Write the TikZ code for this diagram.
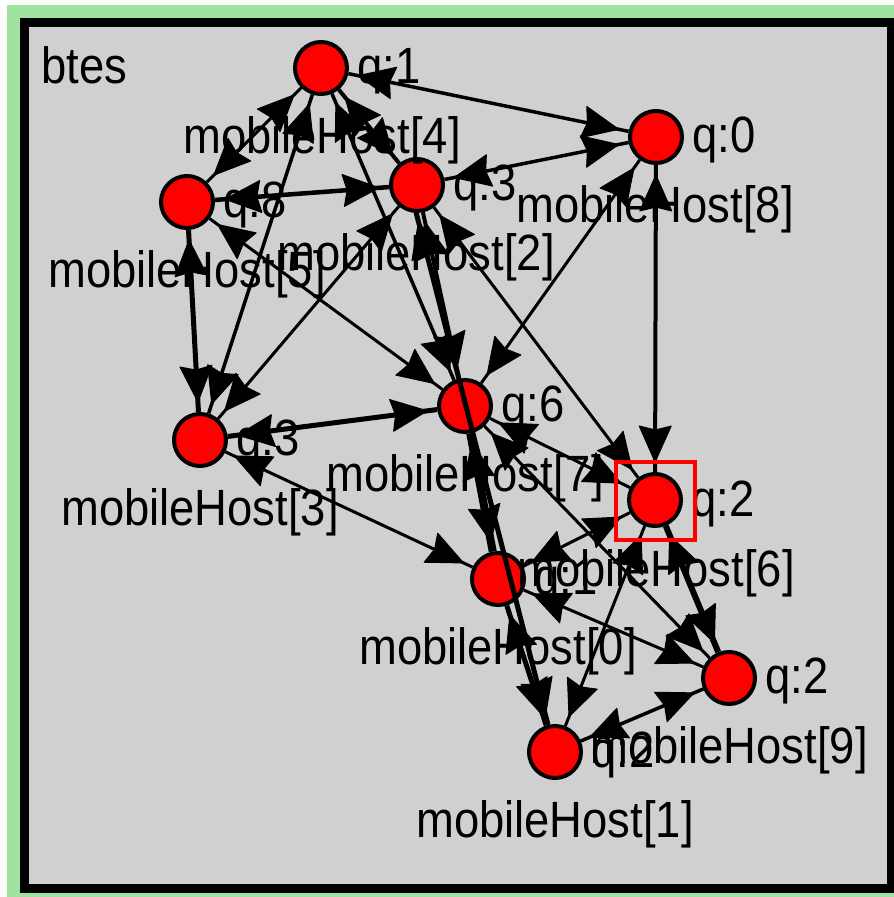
\documentclass[tikz,border=0pt]{standalone}
\usepackage{fontspec}
\usetikzlibrary{calc}
\newfontfamily\labfont[FakeStretch=0.89]{Liberation Sans}
\definecolor{framegreen}{HTML}{A0E3A0}
\definecolor{panelgray}{HTML}{D0D0D0}
\tikzset{
  host/.style={circle,draw=black,line width=4pt,fill=red,minimum size=52pt,inner sep=0pt},
  txt/.style={inner sep=0pt,anchor=base,font=\labfont\fontsize{51}{51}\selectfont,text=black},
  qtxt/.style={txt,anchor=base west},
  link/.style={draw=black,shorten <=28pt,shorten >=28pt},
  tiphead/.style={fill=black,draw=black,line width=1pt,line join=round}
}
% arrow head sitting on the link #1 -> #2, near #2
\newcommand{\hostarrow}[2]{%
  \fill[tiphead] ($(#2)!38pt!(#1)$)
    -- ($(#2)!74pt!(#1)!16pt!90:(#1)$)
    -- ($(#2)!70pt!(#1)$)
    -- ($(#2)!74pt!(#1)!16pt!-90:(#1)$) -- cycle;}
\newcommand{\hostlink}[3]{%
  \draw[link,line width=#3] (#1.center) -- (#2.center);
  \hostarrow{#1.center}{#2.center}
  \hostarrow{#2.center}{#1.center}}
\begin{document}
\begin{tikzpicture}[x=1pt,y=-1pt]
\useasboundingbox (0,0) rectangle (894,897);
\fill[white] (0,0) rectangle (894,897);
\fill[framegreen] (7,5) rectangle (894,897);
\fill[black] (20,18) rectangle (894,893);
\fill[panelgray] (29,27) rectangle (887,884);
\node[host] (h4) at (321,68) {};
\node[host] (h8) at (656,137) {};
\node[host] (h2) at (417,185) {};
\node[host] (h5) at (187,202) {};
\node[host] (h3) at (200,440) {};
\node[host] (h7) at (465,406) {};
\node[host] (h6) at (655,500) {};
\node[host] (h0) at (498,579) {};
\node[host] (h9) at (729,678) {};
\node[host] (h1) at (555,752) {};
\coordinate (h2off) at (409,185);
\hostlink{h4}{h8}{3.5pt}
\hostlink{h2}{h8}{3.5pt}
\hostlink{h5}{h2}{4.5pt}
\hostlink{h4}{h5}{3pt}
\hostlink{h4}{h2}{4pt}
\hostlink{h4}{h3}{3.5pt}
\hostlink{h4}{h7}{3.5pt}
\hostlink{h2}{h7}{4pt}
\hostlink{h5}{h3}{5pt}
\hostlink{h5}{h7}{3pt}
\hostlink{h2}{h3}{3pt}
\hostlink{h8}{h7}{3pt}
\hostlink{h8}{h6}{4pt}
\hostlink{h2}{h6}{3pt}
\hostlink{h3}{h7}{5pt}
\hostlink{h3}{h0}{3pt}
\hostlink{h7}{h6}{3pt}
\hostlink{h7}{h0}{8pt}
\hostlink{h2off}{h1}{5pt}
\hostlink{h0}{h1}{5pt}
\hostlink{h7}{h9}{3pt}
\hostlink{h0}{h6}{3pt}
\hostlink{h0}{h9}{3pt}
\hostlink{h6}{h1}{3pt}
\hostlink{h6}{h9}{6pt}
\hostlink{h9}{h1}{3.5pt}
\node[txt,anchor=base west] (title) at (41,83) {btes};
\node[qtxt] (q4) at (357,83) {q:1};
\node[qtxt] (q8) at (692,152) {q:0};
\node[qtxt] (q2) at (453,200) {q:3};
\node[qtxt] (q5) at (223,217) {q:8};
\node[qtxt] (q3) at (236,455) {q:3};
\node[qtxt] (q7) at (501,421) {q:6};
\node[qtxt] (q6) at (691,516) {q:2};
\node[qtxt] (q0) at (534,594) {q:1};
\node[qtxt] (q9) at (765,693) {q:2};
\node[qtxt] (q1) at (591,767) {q:2};
\node[txt] (m4) at (322,153) {mobileHost[4]};
\node[txt] (m8) at (655,222) {mobileHost[8]};
\node[txt] (m2) at (416,270) {mobileHost[2]};
\node[txt] (m5) at (187,287) {mobileHost[5]};
\node[txt] (m3) at (200,525) {mobileHost[3]};
\node[txt] (m7) at (465,491) {mobileHost[7]};
\node[txt] (m6) at (656,586) {mobileHost[6]};
\node[txt] (m0) at (498,664) {mobileHost[0]};
\node[txt] (m9) at (729,763) {mobileHost[9]};
\node[txt] (m1) at (555,837) {mobileHost[1]};
\draw[red,line width=4pt] (616,462) rectangle (695,540);
\end{tikzpicture}
\end{document}
